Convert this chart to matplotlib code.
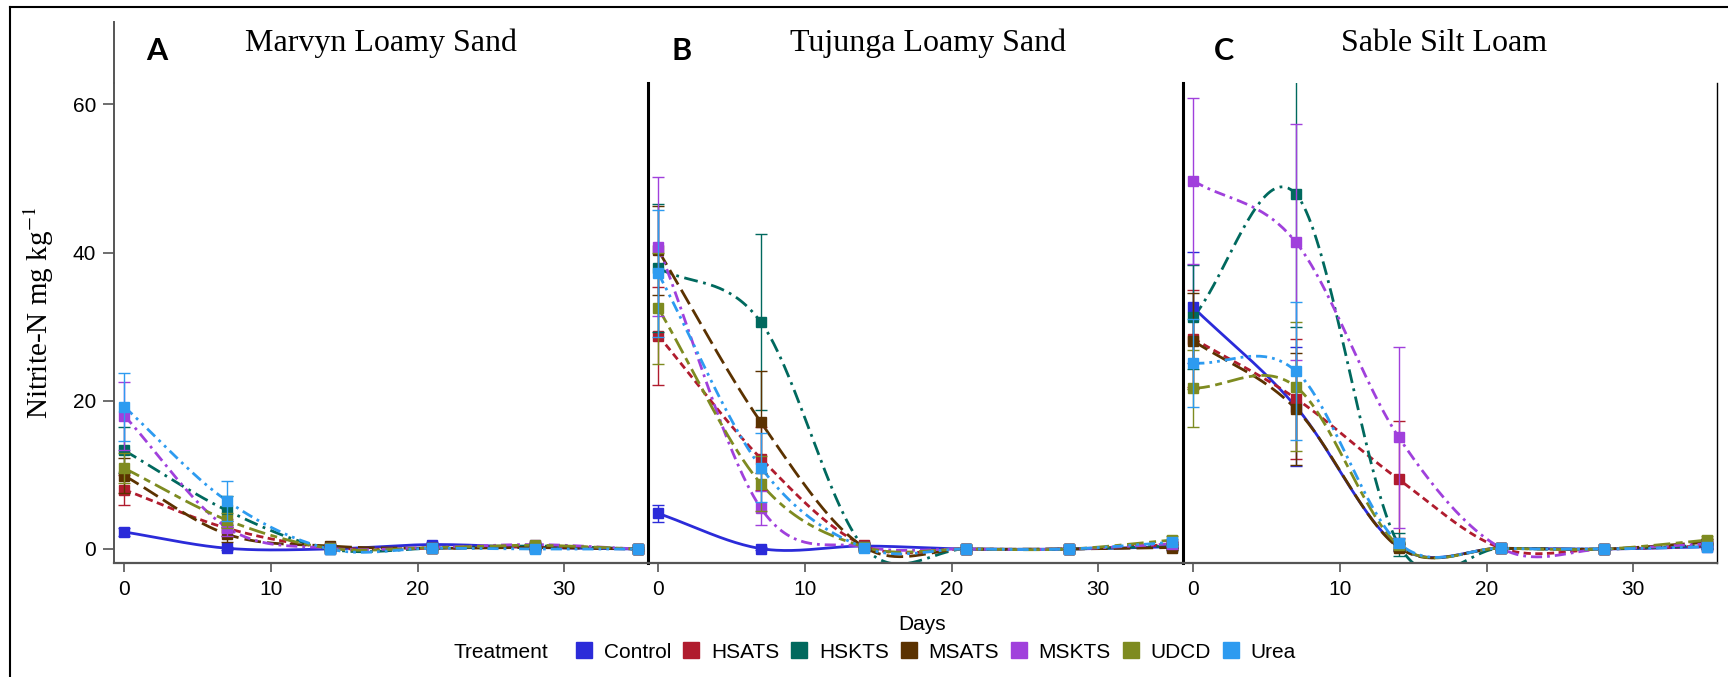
import numpy as np
import matplotlib
matplotlib.use("Agg")
import matplotlib.pyplot as plt
from matplotlib.lines import Line2D

plt.rcParams['font.family'] = ['Liberation Sans', 'DejaVu Sans']
plt.rcParams['mathtext.fontset'] = 'stix'

# ---------------- data ----------------
days = [0, 7, 14, 21, 28, 35]
treatments = ["Control", "HSATS", "HSKTS", "MSATS", "MSKTS", "UDCD", "Urea"]
colors = ["#2B2BD9", "#B01C2E", "#00695E", "#5B3200", "#A040DC", "#7E8B20", "#2D9BF0"]
panel_titles = ["Marvyn Loamy Sand", "Tujunga Loamy Sand", "Sable Silt Loam"]
panel_letters = ["A", "B", "C"]
yticks = [0, 20, 40, 60]
xticks = [0, 10, 20, 30]

# Panel A - Marvyn Loamy Sand
marvyn_mean = {
    "Control": [2.3, 0.1, 0.0, 0.6, 0.2, 0.0],
    "HSATS":   [8.0, 2.8, 0.2, 0.1, 0.3, 0.0],
    "HSKTS":   [13.3, 5.2, 0.0, 0.1, 0.4, 0.0],
    "MSATS":   [9.9, 2.0, 0.4, 0.1, 0.2, 0.0],
    "MSKTS":   [18.0, 2.9, 0.1, 0.2, 0.6, 0.0],
    "UDCD":    [10.9, 3.9, 0.1, 0.2, 0.5, 0.0],
    "Urea":    [19.2, 6.5, 0.0, 0.1, 0.0, 0.0],
}
marvyn_err = {
    "Control": [0.6, 0.2, 0.1, 0.4, 0.2, 0.1],
    "HSATS":   [2.0, 1.0, 0.2, 0.1, 0.3, 0.1],
    "HSKTS":   [3.1, 2.0, 0.2, 0.1, 0.3, 0.1],
    "MSATS":   [2.4, 1.0, 0.2, 0.1, 0.2, 0.1],
    "MSKTS":   [4.6, 1.2, 0.1, 0.1, 0.3, 0.1],
    "UDCD":    [2.0, 1.0, 0.1, 0.1, 0.3, 0.1],
    "Urea":    [4.6, 2.7, 0.1, 0.1, 0.1, 0.1],
}
# Panel B - Tujunga Loamy Sand
tujunga_mean = {
    "Control": [4.8, 0.05, 0.4, 0.0, 0.0, 0.3],
    "HSATS":   [28.8, 12.2, 0.5, 0.0, 0.0, 0.6],
    "HSKTS":   [37.9, 30.6, 0.3, 0.0, 0.0, 0.4],
    "MSATS":   [40.3, 17.1, 0.3, 0.0, 0.0, 0.2],
    "MSKTS":   [40.8, 5.5, 0.3, 0.0, 0.0, 0.7],
    "UDCD":    [32.5, 8.8, 0.3, 0.0, 0.0, 1.2],
    "Urea":    [37.2, 11.0, 0.2, 0.0, 0.0, 0.9],
}
tujunga_err = {
    "Control": [1.2, 0.2, 0.1, 0.1, 0.1, 0.2],
    "HSATS":   [6.6, 4.3, 0.3, 0.1, 0.1, 0.3],
    "HSKTS":   [8.6, 11.9, 0.3, 0.1, 0.1, 0.3],
    "MSATS":   [6.0, 6.9, 0.3, 0.1, 0.1, 0.3],
    "MSKTS":   [9.4, 2.3, 0.2, 0.1, 0.1, 0.3],
    "UDCD":    [7.5, 3.7, 0.2, 0.1, 0.1, 0.5],
    "Urea":    [8.6, 4.6, 0.2, 0.1, 0.1, 0.4],
}
# Panel C - Sable Silt Loam
sable_mean = {
    "Control": [32.6, 19.2, 0.3, 0.1, 0.0, 0.3],
    "HSATS":   [28.4, 20.3, 9.4, 0.1, 0.0, 0.4],
    "HSKTS":   [31.3, 47.9, 0.6, 0.1, 0.0, 0.5],
    "MSATS":   [28.1, 18.9, 0.2, 0.1, 0.0, 0.9],
    "MSKTS":   [49.7, 41.4, 15.1, 0.1, 0.0, 0.7],
    "UDCD":    [21.7, 21.9, 0.5, 0.1, 0.0, 1.2],
    "Urea":    [25.1, 24.0, 0.8, 0.1, 0.0, 0.3],
}
sable_err = {
    "Control": [7.5, 8.0, 0.5, 0.1, 0.1, 0.3],
    "HSATS":   [6.6, 8.1, 7.9, 0.1, 0.1, 0.3],
    "HSKTS":   [7.0, 17.9, 1.5, 0.1, 0.1, 0.3],
    "MSATS":   [6.5, 7.5, 0.5, 0.1, 0.1, 0.4],
    "MSKTS":   [11.2, 15.9, 12.2, 0.1, 0.1, 0.3],
    "UDCD":    [5.2, 8.7, 0.5, 0.1, 0.1, 0.5],
    "Urea":    [5.9, 9.3, 0.5, 0.1, 0.1, 0.2],
}
panel_means = [marvyn_mean, tujunga_mean, sable_mean]
panel_errs = [marvyn_err, tujunga_err, sable_err]

# ---------------- styles ----------------
dashes = {
    "Control": None,
    "HSATS": (2.6, 1.6),
    "HSKTS": (5.0, 2.0, 1.0, 2.0),
    "MSATS": (6.0, 2.2),
    "MSKTS": (4.0, 1.8, 1.0, 1.8),
    "UDCD": (6.0, 2.0, 2.5, 2.0),
    "Urea": (4.0, 1.8, 1.0, 1.8, 1.0, 1.8),
}


def smooth_curve(x, y, n=40):
    """Cardinal (Catmull-Rom style) spline drawn through the data points."""
    x = np.asarray(x, float)
    y = np.asarray(y, float)
    m = np.empty_like(y)
    m[1:-1] = (y[2:] - y[:-2]) / (x[2:] - x[:-2])
    m[0] = (y[1] - y[0]) / (x[1] - x[0])
    m[-1] = (y[-1] - y[-2]) / (x[-1] - x[-2])
    xs, ys = [], []
    for i in range(len(x) - 1):
        h = x[i + 1] - x[i]
        t = np.linspace(0, 1, n, endpoint=(i == len(x) - 2))
        h00 = 2 * t**3 - 3 * t**2 + 1
        h10 = t**3 - 2 * t**2 + t
        h01 = -2 * t**3 + 3 * t**2
        h11 = t**3 - t**2
        ys.append(h00 * y[i] + h10 * h * m[i] + h01 * y[i + 1] + h11 * h * m[i + 1])
        xs.append(x[i] + t * h)
    return np.concatenate(xs), np.concatenate(ys)


W, H = 1728, 677
fig = plt.figure(figsize=(W / 100, H / 100), dpi=100)


def fx(px):
    return px / W


def fy(py):
    return 1 - py / H


ax_top, ax_bot = 83.0, 562.7
lefts = [114, 648, 1183]
width = 534
YMIN, YMAX = -1.85, 62.9
XMIN, XMAX = -0.7, 35.7

axes = []
for k in range(3):
    ax = fig.add_axes([fx(lefts[k]), fy(ax_bot), width / W, (ax_bot - ax_top) / H])
    axes.append(ax)
    means, errs = panel_means[k], panel_errs[k]
    for t, c in zip(treatments, colors):
        xs, ys = smooth_curve(days, means[t])
        ln, = ax.plot(xs, ys, color=c, lw=2.0, solid_capstyle='butt')
        if dashes[t] is not None:
            ln.set_dashes(dashes[t])
    for t, c in zip(treatments, colors):
        ax.errorbar(days, means[t], yerr=errs[t], fmt='none', ecolor=c,
                    elinewidth=1.0, capsize=4.5, capthick=1.0)
        ax.plot(days, means[t], 's', color=c, ms=6.5, mec=c)
    ax.set_xlim(XMIN, XMAX)
    ax.set_ylim(YMIN, YMAX)
    ax.set_xticks(xticks)
    ax.set_xticklabels([str(v) for v in xticks], fontsize=15)
    ax.tick_params(axis='x', length=6.7, width=1.2, color='#555555', pad=6)
    ax.spines['top'].set_visible(False)
    ax.spines['bottom'].set_color('#555555')
    ax.spines['bottom'].set_linewidth(1.6)
    ax.set_facecolor('none')
    if k == 0:
        ax.set_yticks(yticks)
        ax.set_yticklabels([str(v) for v in yticks], fontsize=15)
        ax.tick_params(axis='y', length=7.9, width=1.2, color='#555555', pad=5)
        ax.spines['left'].set_color('#555555')
        ax.spines['left'].set_linewidth(1.4)
        ax.spines['right'].set_visible(False)
        ext = Line2D([0, 0], [1, 1 + (ax_top - 21.7) / (ax_bot - ax_top)],
                     transform=ax.transAxes, color='#555555', lw=1.4, clip_on=False)
        ax.add_artist(ext)
    else:
        ax.set_yticks([])
        ax.spines['left'].set_color('black')
        ax.spines['left'].set_linewidth(2.2)
        if k == 1:
            ax.spines['right'].set_visible(False)
        else:
            ax.spines['right'].set_color('black')
            ax.spines['right'].set_linewidth(1.0)

# titles and panel letters
title_x = [381, 928, 1444]
letter_x = [157, 682, 1224]
for k in range(3):
    fig.text(fx(title_x[k]), fy(50.7), panel_titles[k], ha='center', va='baseline',
             fontsize=23, family='Liberation Serif')
    fig.text(fx(letter_x[k]), fy(59.5), panel_letters[k], ha='center', va='baseline',
             fontsize=22, family='Lato', fontweight='bold')

# axis labels
fig.text(fx(38.5), fy(313), "Nitrite-N mg kg$^{-1}$", rotation=90, ha='center', va='center',
         fontsize=21, family='Liberation Serif')
fig.text(fx(922), fy(624), "Days", ha='center', va='center', fontsize=15)

# legend
fig.text(fx(548), fy(652), "Treatment", ha='right', va='center', fontsize=15)
handles = [Line2D([], [], marker='s', linestyle='none', color=c, markersize=12) for c in colors]
fig.legend(handles, treatments, loc='center left', bbox_to_anchor=(fx(574), fy(652)),
           ncol=7, frameon=False, fontsize=15, handlelength=1.0, handletextpad=0.44,
           columnspacing=0.46, borderpad=0, borderaxespad=0)

# outer frame (top and left edges)
fig.add_artist(Line2D([fx(10), fx(10)], [-0.01, fy(6.7)], color='black', lw=1.5))
fig.add_artist(Line2D([fx(10), 1.01], [fy(6.7), fy(6.7)], color='black', lw=1.5))

fig.savefig("out.png", dpi=100)
